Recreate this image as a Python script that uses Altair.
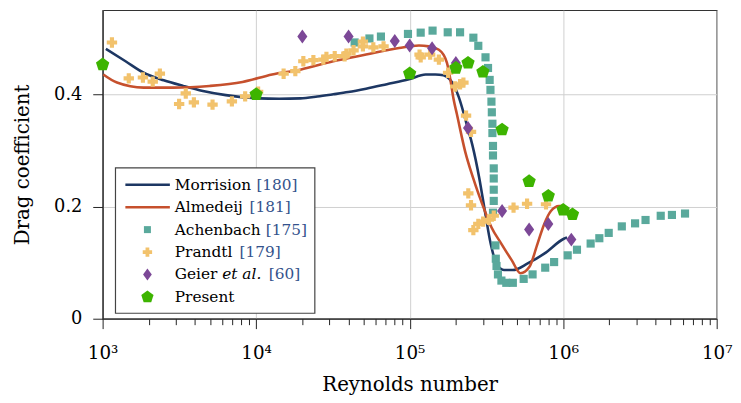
import altair as alt
import pandas as pd

# ---------------- data ----------------
morrison_re = [1.05e3, 1.41e3, 1.85e3, 2.5e3, 3.35e3, 4.5e3, 6.35e3, 1.04e4, 1.41e4, 1.94e4,
               2.5e4, 3.18e4, 3.98e4, 5.2e4, 7.1e4, 9.9e4, 1.27e5, 1.47e5, 1.66e5, 1.82e5,
               1.95e5, 2.09e5, 2.24e5, 2.36e5, 2.56e5, 2.84e5, 3.09e5, 3.37e5, 3.67e5, 4.11e5,
               4.7e5, 5.87e5, 7.53e5, 1.01e6, 1.06e6]
morrison_cd = [0.481, 0.459, 0.4385, 0.425, 0.415, 0.406, 0.3986, 0.3928, 0.392, 0.3928,
               0.396, 0.400, 0.404, 0.410, 0.418, 0.4268, 0.4355, 0.4355, 0.434, 0.427,
               0.415, 0.395, 0.368, 0.345, 0.31, 0.251, 0.192, 0.134, 0.0985, 0.0867,
               0.0867, 0.0985, 0.116, 0.1425, 0.145]

almedeij_re = [1.01e3, 1.24e3, 1.85e3, 2.88e3, 4.97e3, 8.15e3, 1.27e4, 1.94e4, 3.18e4, 5.2e4,
               8.53e4, 1.15e5, 1.33e5, 1.55e5, 1.66e5, 1.75e5, 1.84e5, 1.93e5, 2.03e5, 2.30e5,
               2.59e5, 3.09e5, 3.41e5, 3.95e5, 4.63e5, 5.27e5, 6.03e5, 6.81e5, 7.53e5, 8.32e5,
               9.4e5, 1.01e6]
almedeij_cd = [0.4355, 0.421, 0.412, 0.412, 0.415, 0.422, 0.4355, 0.444, 0.459, 0.471,
               0.4825, 0.487, 0.4855, 0.4795, 0.4707, 0.456, 0.427, 0.392, 0.365, 0.298,
               0.251, 0.192, 0.163, 0.134, 0.104, 0.081, 0.0925, 0.134, 0.169, 0.192,
               0.201, 0.201]

achenbach_re = [4.38e4, 5.47e4, 6.5e4, 9.75e4, 1.18e5, 1.41e5, 1.77e5, 2.13e5, 2.6e5, 2.8e5,
                3.12e5, 3.24e5, 3.32e5, 3.36e5, 3.41e5, 3.43e5, 3.46e5, 3.46e5, 3.49e5, 3.49e5,
                3.53e5, 3.53e5, 3.53e5, 3.53e5, 3.49e5, 3.62e5, 3.64e5, 3.68e5, 3.76e5, 3.96e5,
                4.26e5, 4.7e5, 5.53e5, 6.32e5, 7.64e5, 8.73e5, 1.07e6, 1.23e6, 1.51e6, 1.72e6,
                1.98e6, 2.41e6, 2.94e6, 3.44e6, 4.32e6, 5.11e6, 6.22e6]
achenbach_cd = [0.4925, 0.4996, 0.503, 0.5077, 0.510, 0.5136, 0.5106, 0.5106, 0.501, 0.4865,
                0.466, 0.447, 0.4257, 0.408, 0.387, 0.368, 0.3476, 0.331, 0.308, 0.291,
                0.268, 0.250, 0.230, 0.210, 0.189, 0.1307, 0.107, 0.094, 0.079, 0.068,
                0.064, 0.064, 0.071, 0.079, 0.091, 0.101, 0.113, 0.123, 0.134, 0.1435,
                0.153, 0.1646, 0.170, 0.176, 0.1835, 0.185, 0.1875]

prandtl_re = [1.15e3, 1.48e3, 1.83e3, 2.12e3, 2.36e3, 3.15e3, 3.48e3, 3.93e3, 5.2e3, 6.95e3,
              8.48e3, 1.03e4, 1.51e4, 1.8e4, 2.03e4, 2.36e4, 2.74e4, 2.87e4, 3.25e4, 3.77e4,
              3.87e4, 4.31e4, 4.96e4, 4.96e4, 5.8e4, 6.76e4, 1.16e5, 1.18e5, 1.36e5, 1.55e5,
              1.78e5, 1.98e5, 2.13e5, 2.24e5, 2.33e5, 2.51e5, 2.41e5, 2.51e5, 2.6e5, 2.8e5,
              3.01e5, 3.28e5, 3.53e5, 4.75e5, 5.82e5, 7.73e5]
prandtl_cd = [0.4925, 0.4285, 0.43, 0.4227, 0.437, 0.3828, 0.4016, 0.3857, 0.3817, 0.3875,
              0.3963, 0.4046, 0.4368, 0.4415, 0.459, 0.461, 0.462, 0.4667, 0.468, 0.468,
              0.4725, 0.4785, 0.4855, 0.494, 0.4837, 0.4855, 0.4707, 0.466, 0.4707, 0.462,
              0.4385, 0.414, 0.418, 0.421, 0.362, 0.333, 0.2234, 0.2023, 0.158, 0.169,
              0.173, 0.1764, 0.1835, 0.198, 0.205, 0.204]

geier_re = [2e4, 4e4, 8e4, 1e5, 1.4e5, 2e5, 2.4e5, 4e5, 6e5, 8e5, 1.13e6]
geier_cd = [0.503, 0.503, 0.495, 0.487, 0.482, 0.456, 0.34, 0.192, 0.159, 0.169, 0.141]

present_re = [1e3, 1e4, 1e5, 2e5, 2.4e5, 3e5, 4e5, 6e5, 8e5, 1e6, 1.15e6]
present_cd = [0.453, 0.40, 0.437, 0.447, 0.456, 0.44, 0.337, 0.245, 0.219, 0.194, 0.186]

major_ticks = [1e3, 1e4, 1e5, 1e6, 1e7]
minor_ticks = [m * d for d in [1e3, 1e4, 1e5, 1e6] for m in range(2, 10)]
y_ticks = [0, 0.2, 0.4]

legend_names = ["Morrision", "Almedeij", "Achenbach", "Prandtl", "Geier", "Present"]
legend_refs = ["[180]", "[181]", "[175]", "[179]", "[60]", ""]

# ---------------- styling ----------------
FONT = "DejaVu Serif"
C_MOR = "#1d3763"
C_ALM = "#c6502d"
C_ACH = "#5aa99c"
C_PRA = "#f2c26c"
C_GEI = "#7c4897"
C_PRE = "#3db400"
C_REF = "#33528c"
PENTAGON = "M0,-1L0.951,-0.309L0.588,0.809L-0.588,0.809L-0.951,-0.309Z"
DIAMOND = "M0,-1L0.72,0L0,1L-0.72,0Z"
LFS = 15.5


def frame(re, cd):
    return pd.DataFrame({"Re": re, "Cd": cd})


major_test = "abs(log(datum.value)/LN10 - round(log(datum.value)/LN10)) < 1e-6"
sup = "['\u2070','\u00b9','\u00b2','\u00b3','\u2074','\u2075','\u2076','\u2077','\u2078','\u2079']"

x_enc = alt.X(
    "Re:Q",
    scale=alt.Scale(type="log", domain=[1e3, 1e7], nice=False),
    axis=alt.Axis(
        values=major_ticks + minor_ticks,
        title="Reynolds number",
        labelExpr=f"({major_test}) ? '10' + {sup}[round(log(datum.value)/LN10)] : ''",
        labelOverlap=False,
        labelFlush=False,
        tickSize={"condition": {"test": major_test, "value": 10}, "value": 6},
        gridOpacity={"condition": {"test": major_test, "value": 1}, "value": 0},
        labelFontSize=18.5,
        labelPadding=15,
        titlePadding=13,
    ),
)
y_enc = alt.Y(
    "Cd:Q",
    scale=alt.Scale(domain=[0, 0.55], nice=False, zero=False),
    axis=alt.Axis(
        values=y_ticks,
        title="Drag coefficient",
        labelExpr="datum.value == 0 ? '0' : format(datum.value, '.1f')",
        tickSize=10,
        labelPadding=11,
        labelFontSize=18,
        titlePadding=21,
    ),
)

layers = []
layers.append(alt.Chart(frame(morrison_re, morrison_cd)).mark_line(
    color=C_MOR, strokeWidth=2.6, interpolate="monotone").encode(x=x_enc, y=y_enc))
layers.append(alt.Chart(frame(almedeij_re, almedeij_cd)).mark_line(
    color=C_ALM, strokeWidth=2.6, interpolate="monotone").encode(x=x_enc, y=y_enc))
layers.append(alt.Chart(frame(achenbach_re, achenbach_cd)).mark_point(
    shape="square", filled=True, color=C_ACH, size=68, opacity=1).encode(x=x_enc, y=y_enc))
layers.append(alt.Chart(frame(prandtl_re, prandtl_cd)).mark_point(
    shape="cross", filled=True, color=C_PRA, size=110, opacity=1).encode(x=x_enc, y=y_enc))
layers.append(alt.Chart(frame(geier_re, geier_cd)).mark_point(
    shape=DIAMOND, filled=True, color=C_GEI, size=200, opacity=1).encode(x=x_enc, y=y_enc))
layers.append(alt.Chart(frame(present_re, present_cd)).mark_point(
    shape=PENTAGON, filled=True, color=C_PRE, size=200, opacity=1).encode(x=x_enc, y=y_enc))

# ---------------- manual legend (pixel positions inside the plot area) ----------------
one = alt.Data(values=[{}])
LX0, LX1, LY0, LY1 = 13, 214.6, 159.5, 306.5
ROW0, DY = 176.5, 22.7
layers.append(alt.Chart(one).mark_rect(fill="white", stroke="#444", strokeWidth=1.2).encode(
    x=alt.value(LX0), x2=alt.value(LX1), y=alt.value(LY0), y2=alt.value(LY1)))

rows_y = [ROW0 + DY * i for i in range(6)]
for col, ry in [(C_MOR, rows_y[0]), (C_ALM, rows_y[1])]:
    layers.append(alt.Chart(one).mark_rule(color=col, strokeWidth=2.6).encode(
        x=alt.value(23), x2=alt.value(68), y=alt.value(ry)))
legend_syms = [("square", C_ACH, 50), ("cross", C_PRA, 90), (DIAMOND, C_GEI, 150), (PENTAGON, C_PRE, 170)]
for (shape, col, sz), ry in zip(legend_syms, rows_y[2:]):
    layers.append(alt.Chart(one).mark_point(shape=shape, filled=True, color=col, size=sz, opacity=1).encode(
        x=alt.value(45.3), y=alt.value(ry)))

TX = 73
ref_x = [155.5, 148.5, 165, 138.5, 168, 0]
for i, (name, ref) in enumerate(zip(legend_names, legend_refs)):
    layers.append(alt.Chart(one).mark_text(
        text=name, font=FONT, fontSize=LFS, align="left", baseline="middle", color="black").encode(
        x=alt.value(TX), y=alt.value(rows_y[i])))
    if ref:
        layers.append(alt.Chart(one).mark_text(
            text=ref, font=FONT, fontSize=LFS, align="left", baseline="middle", color=C_REF).encode(
            x=alt.value(ref_x[i]), y=alt.value(rows_y[i])))
layers.append(alt.Chart(one).mark_text(
    text="et al.", font=FONT, fontSize=LFS, fontStyle="italic", align="left", baseline="middle",
    color="black").encode(x=alt.value(121), y=alt.value(rows_y[4])))

chart = alt.layer(*layers).properties(
    width=621, height=312,
    autosize=alt.AutoSizeParams(type="none"),
    padding={"left": 95.7, "top": 0, "right": 16.5, "bottom": 82},
).configure(font=FONT).configure_view(
    stroke="#333", strokeWidth=1.2
).configure_axis(
    labelFont=FONT, titleFont=FONT, labelColor="black", titleColor="black",
    titleFontSize=20, titleFontWeight="normal",
    domainColor="#222", domainWidth=1.2, tickColor="#222", tickWidth=1,
    gridColor="#cfcfcf", gridWidth=1,
)

chart.save("out.html", embed_options={"renderer": "svg", "actions": False})
